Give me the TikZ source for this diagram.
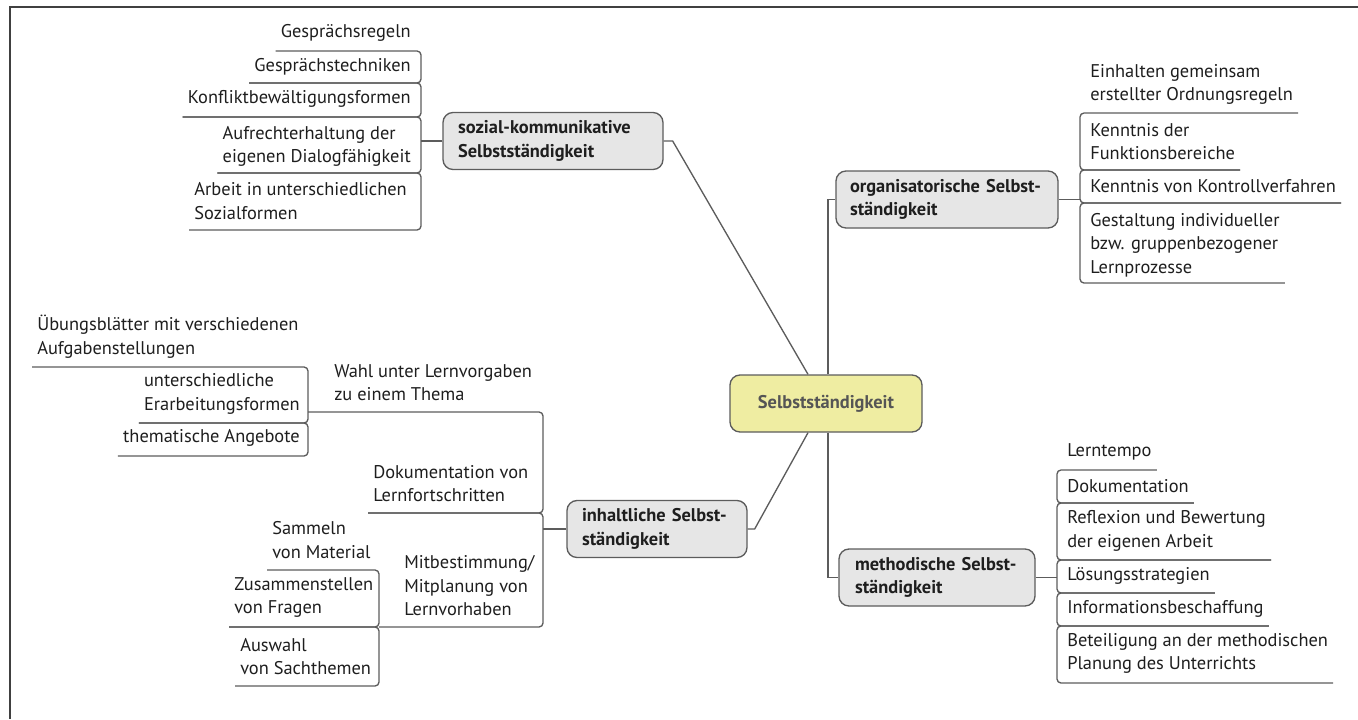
\documentclass[tikz,border=0pt]{standalone}
\usepackage{fontspec}
\setmainfont{PT Sans}
\usepackage{tikz}
\usetikzlibrary{positioning,calc}

\definecolor{linegrey}{HTML}{5C5C5C}
\definecolor{boxfill}{HTML}{E6E6E6}
\definecolor{corefill}{HTML}{EFEDA2}
\definecolor{coretext}{HTML}{555555}
\definecolor{framegrey}{HTML}{404040}
\definecolor{ink}{HTML}{1E1E1E}

\newcommand{\mapfont}{\fontsize{13.8}{17.6}\selectfont}

\tikzset{
  topic/.style={draw=linegrey, fill=boxfill, line width=1pt, rounded corners=7.5pt,
    font=\mapfont\bfseries, text=ink, align=left, inner xsep=11.25pt, inner ysep=3pt,
    minimum height=42.75pt},
  core/.style={topic, fill=corefill, text=coretext, align=center},
  leaf/.style={inner xsep=3.75pt, inner ysep=0pt, align=left, text=ink},
  twig/.style={draw=linegrey, line width=1pt, rounded corners=3pt},
  branch/.style={draw=linegrey, line width=1pt},
  frame/.style={draw=framegrey, line width=1.5pt}
}

\begin{document}
\begin{tikzpicture}[x=0.75pt, y=-0.75pt, font=\mapfont]
  \useasboundingbox (0,0) rectangle (1358,719);
  \draw[frame] (1358,7) -- (10,7) -- (10,719);

  % main topics
  \node[core, text width=121.5pt] (core) at (826,403.5) {Selbstständigkeit};
  \node[topic, text width=142.5pt] (sozial) at (553,141) {sozial-kommunikative\\Selbstständigkeit};
  \node[topic, text width=145.5pt, inner xsep=10.5pt] (orga) at (947,199.5) {\mbox{organisatorische Selbst-}\\ständigkeit};
  \node[topic, text width=112.5pt] (inhalt) at (657,529) {\mbox{inhaltliche Selbst-}\\ständigkeit};
  \node[topic, text width=123pt, inner xsep=12pt] (method) at (937,577.5) {\mbox{methodische Selbst-}\\ständigkeit};

  \draw[branch] (sozial.east) -- ++(9,0) -- ([xshift=-13.5pt]core.north);
  \draw[branch] ([xshift=1.5pt]core.north) |- (orga.west);
  \draw[branch] (inhalt.east) -- ++(7,0) -- ([xshift=-13.5pt]core.south);
  \draw[branch] ([xshift=1.5pt]core.south) |- (method.west);

  % sozial-kommunikativ
  \coordinate (s1) at (421,51);
  \coordinate (s2) at (421,83);
  \coordinate (s3) at (421,117);
  \coordinate (s4) at (421,173);
  \coordinate (s5) at (421,230);
  \node[leaf, anchor=east] (regeln) at (416,33) {Gesprächsregeln};
  \node[leaf, anchor=east] (techniken) at (416,67) {Gesprächstechniken};
  \node[leaf, anchor=east] (konflikt) at (416,99) {Konfliktbewältigungsformen};
  \node[leaf, anchor=east] (dialog) at (416,146.5) {Aufrechterhaltung der\\eigenen Dialogfähigkeit};
  \node[leaf, anchor=east] (sozialformen) at (412,201) {Arbeit in unterschiedlichen\\Sozialformen};
  \draw[twig] (regeln.west |- s1) -- (s1) -- (s2) -- (techniken.west |- s2);
  \draw[twig] (techniken.west |- s2) -- (s2) -- (s3) -- (konflikt.west |- s3);
  \draw[twig] (konflikt.west |- s3) -- (s3) -- (s4) -- (dialog.west |- s4);
  \draw[twig] (dialog.west |- s4) -- (s4) -- (s5) -- (sozialformen.west |- s5);
  \draw[branch] (sozial.west) -- (sozial.west -| s1);

  % organisatorisch
  \coordinate (o1) at (1080,113);
  \coordinate (o2) at (1080,170);
  \coordinate (o3) at (1080,203);
  \coordinate (o4) at (1080,283);
  \node[leaf, anchor=west] (einhalten) at (1085,84.5) {Einhalten gemeinsam\\erstellter Ordnungsregeln};
  \node[leaf, anchor=west] (funktion) at (1085,141.5) {Kenntnis der\\Funktionsbereiche};
  \node[leaf, anchor=west] (kontrolle) at (1085,186) {Kenntnis von Kontrollverfahren};
  \node[leaf, anchor=west] (gestaltung) at (1085,245) {Gestaltung individueller\\bzw. gruppenbezogener\\Lernprozesse};
  \draw[twig] (einhalten.east |- o1) -- (o1) -- (o2) -- (funktion.east |- o2);
  \draw[twig] (funktion.east |- o2) -- (o2) -- (o3) -- (kontrolle.east |- o3);
  \draw[twig] (kontrolle.east |- o3) -- (o3) -- (o4) -- (gestaltung.east |- o4);
  \draw[branch] (orga.east) -- (orga.east -| o1);

  % methodisch
  \coordinate (m1) at (1057,470);
  \coordinate (m2) at (1057,503);
  \coordinate (m3) at (1057,560);
  \coordinate (m4) at (1057,593);
  \coordinate (m5) at (1057,626);
  \coordinate (m6) at (1057,683);
  \node[leaf, anchor=west] (lerntempo) at (1062,452) {Lerntempo};
  \node[leaf, anchor=west] (doku) at (1062,486) {Dokumentation};
  \node[leaf, anchor=west] (reflexion) at (1062,531) {Reflexion und Bewertung\\der eigenen Arbeit};
  \node[leaf, anchor=west] (loesung) at (1062,576) {Lösungsstrategien};
  \node[leaf, anchor=west] (info) at (1062,609) {Informationsbeschaffung};
  \node[leaf, anchor=west] (beteiligung) at (1062,653.5) {Beteiligung an der methodischen\\Planung des Unterrichts};
  \draw[twig] (lerntempo.east |- m1) -- (m1) -- (m2) -- (doku.east |- m2);
  \draw[twig] (doku.east |- m2) -- (m2) -- (m3) -- (reflexion.east |- m3);
  \draw[twig] (reflexion.east |- m3) -- (m3) -- (m4) -- (loesung.east |- m4);
  \draw[twig] (loesung.east |- m4) -- (m4) -- (m5) -- (info.east |- m5);
  \draw[twig] (info.east |- m5) -- (m5) -- (m6) -- (beteiligung.east |- m6);
  \draw[branch] (method.east) -- (method.east -| m1);

  % inhaltlich
  \coordinate (i1) at (543,412);
  \coordinate (i2) at (543,513);
  \coordinate (i3) at (543,627);
  \coordinate (wj) at (308,412);
  \coordinate (bj) at (379,627);
  \node[leaf, anchor=west] (wahl) at (329,382.5) {Wahl unter Lernvorgaben\\zu einem Thema};
  \node[leaf, anchor=west] (fortschritt) at (368,483.5) {Dokumentation von\\Lernfortschritten};
  \node[leaf, anchor=west] (mitbest) at (399,586) {Mitbestimmung/\\Mitplanung von\\Lernvorhaben};
  \draw[twig] (wj) -- (i1) -- (i2) -- (fortschritt.west |- i2);
  \draw[twig] (fortschritt.west |- i2) -- (i2) -- (i3) -- (bj);
  \draw[branch] (inhalt.west) -- (inhalt.west -| i1);

  % Wahl unter Lernvorgaben
  \coordinate (w1) at (308,367);
  \coordinate (w2) at (308,423);
  \coordinate (w3) at (308,456);
  \node[leaf, anchor=west] (uebung) at (32,336.5) {Übungsblätter mit verschiedenen\\Aufgabenstellungen};
  \node[leaf, anchor=east] (erarbeitung) at (305,394) {unterschiedliche\\Erarbeitungsformen};
  \node[leaf, anchor=east] (angebote) at (305,438) {thematische Angebote};
  \draw[twig] (uebung.west |- w1) -- (w1) -- (w2) -- (erarbeitung.west |- w2);
  \draw[twig] (erarbeitung.west |- w2) -- (w2) -- (w3) -- (angebote.west |- w3);

  % Mitbestimmung
  \coordinate (b1) at (379,570);
  \coordinate (b2) at (379,627);
  \coordinate (b3) at (379,686);
  \node[leaf, anchor=west] (sammeln) at (267,540) {Sammeln\\von Material};
  \node[leaf, anchor=west] (fragen) at (229,597.5) {Zusammenstellen\\von Fragen};
  \node[leaf, anchor=west] (auswahl) at (235,656.5) {Auswahl\\von Sachthemen};
  \draw[twig] (sammeln.west |- b1) -- (b1) -- (b2) -- (fragen.west |- b2);
  \draw[twig] (fragen.west |- b2) -- (b2) -- (b3) -- (auswahl.west |- b3);
\end{tikzpicture}
\end{document}
